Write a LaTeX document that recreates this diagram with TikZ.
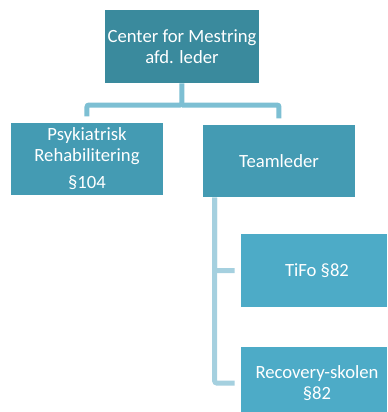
\documentclass[tikz,border=0pt]{standalone}
\usepackage{fontspec}
\setmainfont{Carlito}
\usepackage{xcolor}

\definecolor{topblue}{HTML}{3A8A9D}
\definecolor{midblue}{HTML}{449BB3}
\definecolor{lowblue}{HTML}{4DABC7}
\definecolor{linkblue}{HTML}{7DBFD3}
\definecolor{paleblue}{HTML}{A5D0DF}

\tikzset{
  orgbox/.style={rectangle, inner sep=2pt, align=center, text=white,
    minimum width=114pt, minimum height=54.5pt,
    font=\fontsize{14}{15.5}\selectfont},
  link/.style={draw=linkblue, line width=3.75pt, rounded corners=1.5pt},
  sublink/.style={draw=paleblue, line width=3.75pt, rounded corners=1.5pt}
}

\begin{document}
\begin{tikzpicture}[x=0.75pt,y=0.75pt,yscale=-1,xscale=1]
\useasboundingbox (0,0) rectangle (387,412);
\clip (0,0) rectangle (387,412);

% Top node
\node [orgbox, fill=topblue, minimum height=55pt] (leder) at (182,46.5) {Center for Mestring\\afd. leder};
% Second row
\node [orgbox, fill=midblue] (psyk) at (87,159) {Psykiatrisk\\Rehabilitering\\[5pt]§104};
\node [orgbox, fill=midblue] (team) at (279,161) {Teamleder};
% Third row
\node [orgbox, fill=lowblue] (tifo) at (317,270.5) {TiFo §82};
\node [orgbox, fill=lowblue] (recov) at (317,383) {Recovery-skolen\\§82};

% Connections
\coordinate (bus) at (182,105);
\draw [link, shorten >=4.5pt] (leder.south) -- (bus) -| (psyk.north);
\draw [link, shorten >=4.5pt] (bus) -| (team.north);
\draw [sublink, shorten >=4.5pt] ([xshift=9pt]team.south west) |- (tifo.west);
\draw [sublink, shorten >=4.5pt] ([xshift=9pt]team.south west) |- (recov.west);

\end{tikzpicture}
\end{document}
